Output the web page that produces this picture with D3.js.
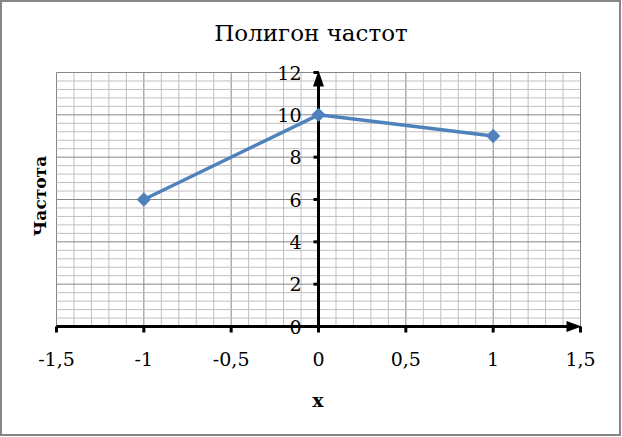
<!DOCTYPE html>
<html><head><meta charset="utf-8">
<script src="https://cdn.jsdelivr.net/npm/d3@7"></script>
<style>body{margin:0;background:#fff}</style>
</head><body>
<script>
const title = "Полигон частот";
const xLabel = "x";
const yLabel = "Частота";
const xValues = [-1, 0, 1];
const yValues = [6, 10, 9];
const xTicks = [-1.5, -1, -0.5, 0, 0.5, 1, 1.5];
const yTicks = [0, 2, 4, 6, 8, 10, 12];

const W = 622, H = 437;
const svg = d3.select("body").append("svg").attr("width", W).attr("height", H);
svg.append("rect").attr("x", 1).attr("y", 1).attr("width", W - 3).attr("height", H - 3)
  .attr("fill", "#fff").attr("stroke", "#868686").attr("stroke-width", 2);

const x = d3.scaleLinear().domain([-1.5, 1.5]).range([56.5, 580.5]);
const y = d3.scaleLinear().domain([0, 12]).range([326.5, 72.5]);

const fmt = d => String(d).replace(".", ",");

// grid
const g = svg.append("g");
g.selectAll(".vmin").data(d3.range(-15, 16)).join("line")
  .attr("x1", d => x(d / 10)).attr("x2", d => x(d / 10))
  .attr("y1", y(0)).attr("y2", y(12))
  .attr("stroke", d => d % 5 === 0 ? "#868686" : "#c0c0c0").attr("stroke-width", 1);
g.selectAll(".hmin").data(d3.range(0, 31)).join("line")
  .attr("y1", d => y(d * 0.4)).attr("y2", d => y(d * 0.4))
  .attr("x1", x(-1.5)).attr("x2", x(1.5))
  .attr("stroke", d => d % 5 === 0 ? "#868686" : "#c0c0c0").attr("stroke-width", 1);

// axes
const ax = svg.append("g");
ax.append("line").attr("x1", x(-1.5)).attr("x2", x(1.5) - 12).attr("y1", y(0)).attr("y2", y(0))
  .attr("stroke", "#000").attr("stroke-width", 3);
ax.append("path").attr("d", `M${x(1.5)+1},${y(0)} L${x(1.5)-14},${y(0)-5.5} L${x(1.5)-14},${y(0)+5.5} Z`).attr("fill", "#000");
ax.append("line").attr("x1", x(0)).attr("x2", x(0)).attr("y1", y(0)).attr("y2", y(12) + 12)
  .attr("stroke", "#000").attr("stroke-width", 3);
ax.append("path").attr("d", `M${x(0)},${y(12)-2} L${x(0)-5.5},${y(12)+14} L${x(0)+5.5},${y(12)+14} Z`).attr("fill", "#000");

ax.selectAll(".xt").data(xTicks).join("rect")
  .attr("x", d => x(d) - 1.5).attr("y", y(0)).attr("width", 3).attr("height", 6).attr("fill", "#000");
ax.selectAll(".yt").data(yTicks).join("rect")
  .attr("x", x(0) - 5).attr("y", d => y(d) - 1.5).attr("width", 5).attr("height", 3).attr("fill", "#000");

const serif = "'DejaVu Serif', serif";
ax.selectAll(".xl").data(xTicks).join("text")
  .attr("x", d => x(d)).attr("y", 366).attr("text-anchor", "middle")
  .attr("font-family", serif).attr("font-size", 19).text(fmt);
ax.selectAll(".yl").data(yTicks).join("text")
  .attr("x", x(0) - 17).attr("y", d => y(d) + 7).attr("text-anchor", "end")
  .attr("font-family", serif).attr("font-size", 19).text(fmt);

// series
const pts = xValues.map((v, i) => [v, yValues[i]]);
svg.append("path").datum(pts)
  .attr("d", d3.line().x(d => x(d[0])).y(d => y(d[1])))
  .attr("fill", "none").attr("stroke", "#4F81BD").attr("stroke-width", 3.5).attr("stroke-linejoin", "round");
svg.selectAll(".mk").data(pts).join("path")
  .attr("d", d3.symbol(d3.symbolDiamond2, 130)())
  .attr("transform", d => `translate(${x(d[0])},${y(d[1])})`)
  .attr("fill", "#4F81BD");

svg.append("text").attr("x", 311).attr("y", 41).attr("text-anchor", "middle")
  .attr("font-family", serif).attr("font-size", 23).text(title);
svg.append("text").attr("x", 318).attr("y", 407).attr("text-anchor", "middle")
  .attr("font-family", serif).attr("font-weight", "bold").attr("font-size", 19).text(xLabel);
svg.append("text").attr("transform", "translate(46,196) rotate(-90)").attr("text-anchor", "middle")
  .attr("font-family", serif).attr("font-weight", "bold").attr("font-size", 17).text(yLabel);
</script>
</body></html>
